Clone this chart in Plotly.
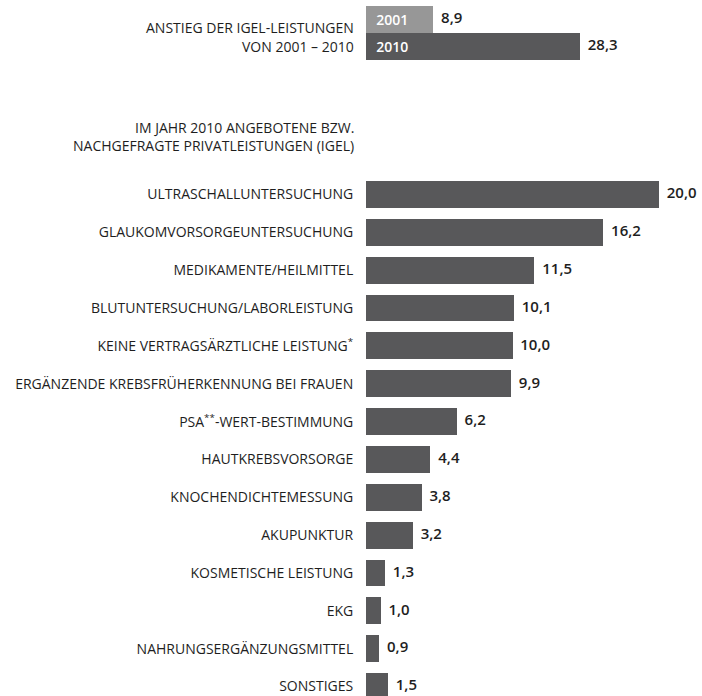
import plotly.graph_objects as go

# ---- data ----
years = ["2001", "2010"]
growth_values = [8.9, 28.3]

categories = [
    "ULTRASCHALLUNTERSUCHUNG",
    "GLAUKOMVORSORGEUNTERSUCHUNG",
    "MEDIKAMENTE/HEILMITTEL",
    "BLUTUNTERSUCHUNG/LABORLEISTUNG",
    "KEINE VERTRAGSÄRZTLICHE LEISTUNG<sup>*</sup>",
    "ERGÄNZENDE KREBSFRÜHERKENNUNG BEI FRAUEN",
    "PSA<sup>**</sup>-WERT-BESTIMMUNG",
    "HAUTKREBSVORSORGE",
    "KNOCHENDICHTEMESSUNG",
    "AKUPUNKTUR",
    "KOSMETISCHE LEISTUNG",
    "EKG",
    "NAHRUNGSERGÄNZUNGSMITTEL",
    "SONSTIGES",
]
values = [20.0, 16.2, 11.5, 10.1, 10.0, 9.9, 6.2, 4.4, 3.8, 3.2, 1.3, 1.0, 0.9, 1.5]

# ---- style ----
W, H = 702, 696
DARK = "#58585a"
LIGHT = "#979797"
TXT = "#1e1e1e"
FONT = "Open Sans"
LBL = 14

def fmt(v):
    return f"{v:.1f}".replace(".", ",")

fig = go.Figure()

# top: growth bars
fig.add_trace(go.Bar(
    x=growth_values, y=list(range(len(years))), orientation="h",
    marker=dict(color=[LIGHT, DARK], line=dict(width=0)), width=1.0,
    text=["  " + y for y in years], textposition="inside", insidetextanchor="start",
    textfont=dict(family=FONT, size=14, color="white", weight=600),
    xaxis="x2", yaxis="y2", hoverinfo="skip", showlegend=False,
))
fig.add_trace(go.Scatter(
    x=growth_values, y=list(range(len(years))), mode="text",
    text=["  " + fmt(v) for v in growth_values], textposition="middle right",
    textfont=dict(family=FONT, size=15, color=TXT, weight=600),
    xaxis="x2", yaxis="y2", hoverinfo="skip", showlegend=False, cliponaxis=False,
))

# bottom: services
ypos = list(range(len(categories)))
fig.add_trace(go.Bar(
    x=values, y=ypos, orientation="h",
    marker=dict(color=DARK, line=dict(width=0)), width=0.71,
    hoverinfo="skip", showlegend=False,
))
fig.add_trace(go.Scatter(
    x=values, y=ypos, mode="text",
    text=["  " + fmt(v) for v in values], textposition="middle right",
    textfont=dict(family=FONT, size=15, color=TXT, weight=600),
    hoverinfo="skip", showlegend=False, cliponaxis=False,
))

x0 = 366 / W
fig.update_layout(
    width=W, height=H,
    margin=dict(l=0, r=0, t=0, b=0),
    paper_bgcolor="white", plot_bgcolor="white",
    font=dict(family=FONT, color=TXT),
    xaxis=dict(domain=[x0, 1], range=[0, (W - 366) / 14.65], visible=False, fixedrange=True),
    yaxis=dict(domain=[0, 1 - 175 / H], range=[(H - 194.5) / 37.85, -(194.5 - 175) / 37.85],
               tickmode="array", tickvals=ypos, ticktext=categories,
               showgrid=False, zeroline=False, showline=False,
               ticks="outside", ticklen=9, tickcolor="rgba(0,0,0,0)",
               tickfont=dict(family=FONT, size=LBL, color=TXT)),
    xaxis2=dict(domain=[x0, 1], range=[0, (W - 366) / 7.56], visible=False, anchor="y2", fixedrange=True),
    yaxis2=dict(domain=[1 - 60 / H, 1 - 6 / H], range=[1.5, -0.5], visible=False, anchor="x2"),
    bargap=0,
)

for txt, py in [("ANSTIEG DER IGEL-LEISTUNGEN", 27), ("VON 2001 – 2010", 46),
                ("IM JAHR 2010 ANGEBOTENE BZW.", 127), ("NACHGEFRAGTE PRIVATLEISTUNGEN (IGEL)", 145)]:
    fig.add_annotation(x=356 / W, y=1 - py / H, xref="paper", yref="paper", xanchor="right", yanchor="middle",
                       text=txt, showarrow=False, font=dict(family=FONT, size=LBL, color=TXT))

fig.write_html("out.html")
